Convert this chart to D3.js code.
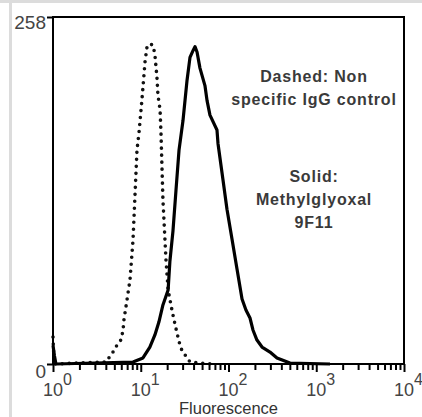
<!DOCTYPE html>
<html>
<head>
<meta charset="utf-8">
<script src="https://cdn.jsdelivr.net/npm/d3@7"></script>
<style>
  body { margin: 0; background: #fff; }
  svg { display: block; }
</style>
</head>
<body>
<div id="chart"></div>
<script>
// control (dashed) histogram: fluorescence channel vs count
const controlFluor = [1, 1.03, 4.02, 4.83, 5.36, 5.96, 6.28, 6.44, 6.97, 7.54, 8.16, 9.06, 9.55, 10.3, 11.2, 11.8, 12.7, 13.8, 14.5, 15.3, 15.7, 16.6, 17.0, 17.9, 19.4, 20.5, 22.7, 23.9, 25.9, 28.0, 29.5, 36.4, 47.3, 66.6];
const controlCount = [20, 0, 1.5, 8.9, 14, 18, 25, 33, 47.6, 62.5, 92, 159, 172, 196, 225, 236, 238, 237, 230, 213, 200, 189, 172, 122, 77, 55, 40, 33, 23, 14, 10, 1.5, 0.7, 0];

// 9F11 (solid) histogram
const mgFluor = [1, 1.04, 1.08, 8.16, 10.6, 12.7, 14.5, 16.1, 17.9, 20.5, 21.5, 23.3, 25.2, 27.3, 30.3, 33.7, 36.4, 39.4, 41.5, 43.8, 47.3, 53.9, 56.9, 61.5, 73.9, 75.9, 86.5, 96.1, 109.6, 125, 142.6, 158, 175.8, 190, 211, 241, 297, 357, 502, 1435];
const mgCount = [14, 6, 0, 1.5, 4.5, 12.6, 21.6, 31.2, 43.9, 55, 76.6, 99, 129, 159, 181, 211, 228, 233, 236, 232, 220, 207, 196, 185, 174, 164, 137, 115, 92.9, 70.6, 48.3, 40.1, 34.2, 25.3, 17.8, 12.6, 8.9, 4.5, 0.7, 0];

const decades = [1, 10, 100, 1000, 10000];
const yTicks = [0, 258];
const dashedNote = ["Dashed: Non", "specific IgG control"];
const solidNote = ["Solid:", "Methylglyoxal", "9F11"];

const dims = { width: 422, height: 417, left: 53, top: 17, right: 18, bottom: 53 };
dims.ctrWidth = dims.width - dims.left - dims.right;
dims.ctrHeight = dims.height - dims.top - dims.bottom;

const svg = d3.select("#chart").append("svg")
  .attr("width", dims.width)
  .attr("height", dims.height);

// page frame strips
svg.append("rect").attr("x", 0).attr("y", 0).attr("width", dims.width).attr("height", 3).attr("fill", "#dcdcdc");
svg.append("rect").attr("x", 9).attr("y", 0).attr("width", 3).attr("height", dims.height).attr("fill", "#dcdcdc");

const ctr = svg.append("g").attr("transform", `translate(${dims.left}, ${dims.top})`);

const xScale = d3.scaleLog().domain([1, 10000]).range([0, dims.ctrWidth]);
const yScale = d3.scaleLinear().domain([0, 258]).range([dims.ctrHeight, 0]);

const line = d3.line()
  .x(d => xScale(d[0]))
  .y(d => yScale(d[1]));

// control, dotted
ctr.append("path")
  .datum(d3.zip(controlFluor, controlCount))
  .attr("d", line)
  .attr("fill", "none")
  .attr("stroke", "#111")
  .attr("stroke-width", 3.6)
  .attr("stroke-linecap", "round")
  .attr("stroke-dasharray", "0,7");

// 9F11, solid
ctr.append("path")
  .datum(d3.zip(mgFluor, mgCount))
  .attr("d", line)
  .attr("fill", "none")
  .attr("stroke", "#000")
  .attr("stroke-width", 3.2)
  .attr("stroke-linejoin", "round");

// frame
ctr.append("rect")
  .attr("width", dims.ctrWidth)
  .attr("height", dims.ctrHeight)
  .attr("fill", "none")
  .attr("stroke", "#000")
  .attr("stroke-width", 2);

// x ticks
const minorTicks = [];
decades.slice(0, -1).forEach(d => { for (let k = 2; k <= 9; k++) minorTicks.push(d * k); });

const xMinor = ctr.append("g")
  .attr("transform", `translate(0, ${dims.ctrHeight})`)
  .call(d3.axisBottom(xScale).tickValues(minorTicks).tickSize(6).tickFormat(""));
const xMajor = ctr.append("g")
  .attr("transform", `translate(0, ${dims.ctrHeight})`)
  .call(d3.axisBottom(xScale).tickValues(decades).tickSize(8).tickFormat(""));
[xMinor, xMajor].forEach(g => {
  g.select(".domain").remove();
  g.selectAll(".tick line").attr("stroke", "#000").attr("stroke-width", 2);
});

const xLabels = ctr.append("g").selectAll("text")
  .data(decades)
  .join("text")
  .attr("x", d => xScale(d) - 10)
  .attr("y", dims.ctrHeight + 32)
  .attr("font-family", "Liberation Sans, Arial, sans-serif")
  .attr("font-size", 18)
  .attr("fill", "#444");
xLabels.append("tspan").text("10");
xLabels.append("tspan")
  .attr("dy", -11)
  .attr("font-size", 16)
  .text(d => Math.round(Math.log10(d)));

// y ticks
const yAxis = ctr.append("g")
  .call(d3.axisLeft(yScale).tickValues(yTicks).tickSize(6).tickPadding(1));
yAxis.select(".domain").remove();
yAxis.selectAll(".tick line").attr("stroke", "#000").attr("stroke-width", 2);
yAxis.selectAll(".tick text")
  .attr("font-family", "Liberation Sans, Arial, sans-serif")
  .attr("font-size", 19)
  .attr("fill", "#444")
  .attr("dy", d => d === 0 ? "0.7em" : "0.6em");

// axis title
svg.append("text")
  .attr("x", dims.left + dims.ctrWidth / 2)
  .attr("y", 413.5)
  .attr("text-anchor", "middle")
  .attr("font-family", "Liberation Sans, Arial, sans-serif")
  .attr("font-size", 16.5)
  .attr("fill", "#333")
  .text("Fluorescence");

// notes
function note(lines, y0) {
  svg.append("g").selectAll("text")
    .data(lines)
    .join("text")
    .attr("x", 314)
    .attr("y", (d, i) => y0 + i * 23)
    .attr("text-anchor", "middle")
    .attr("font-family", "Liberation Sans, Arial, sans-serif")
    .attr("font-weight", "bold")
    .attr("font-size", 16)
    .attr("letter-spacing", 0.8)
    .attr("fill", "#3a3a3a")
    .text(d => d);
}
note(dashedNote, 82);
note(solidNote, 182);
</script>
</body>
</html>
